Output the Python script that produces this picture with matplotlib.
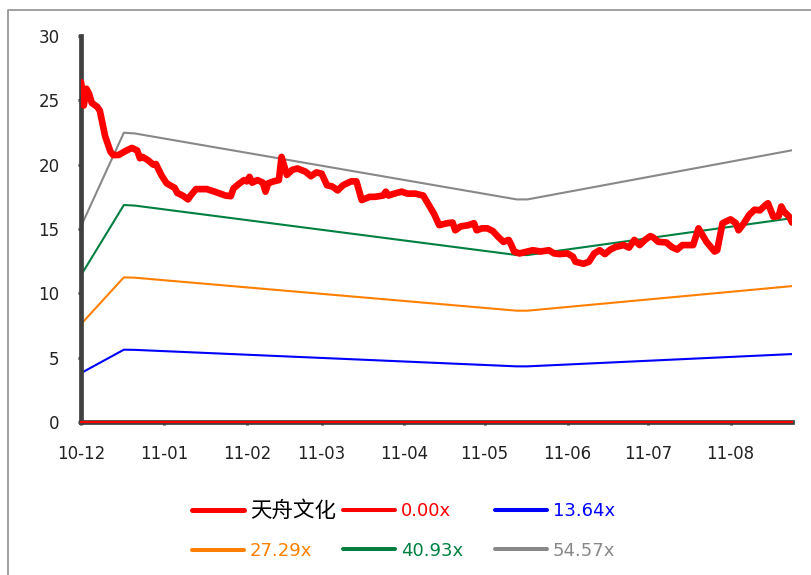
import pandas as pd
import matplotlib
matplotlib.use('Agg')
import matplotlib.pyplot as plt
import matplotlib.dates as mdates
from matplotlib.lines import Line2D

plt.rcParams['font.family'] = ['DejaVu Sans', 'Noto Sans CJK SC']

# 天舟文化 closing price
price_dates = ['2010-12-01', '2010-12-02', '2010-12-03', '2010-12-04', '2010-12-05', '2010-12-07',
               '2010-12-08', '2010-12-10', '2010-12-12', '2010-12-13', '2010-12-15', '2010-12-18',
               '2010-12-20', '2010-12-22', '2010-12-23', '2010-12-24', '2010-12-26', '2010-12-28',
               '2010-12-29', '2010-12-31', '2011-01-02', '2011-01-05', '2011-01-06', '2011-01-08',
               '2011-01-10', '2011-01-11', '2011-01-13', '2011-01-17', '2011-01-20', '2011-01-24',
               '2011-01-26', '2011-01-27', '2011-01-29', '2011-01-31', '2011-02-01', '2011-02-02',
               '2011-02-03', '2011-02-05', '2011-02-07', '2011-02-08', '2011-02-09', '2011-02-11',
               '2011-02-13', '2011-02-14', '2011-02-16', '2011-02-18', '2011-02-20', '2011-02-23',
               '2011-02-25', '2011-02-27', '2011-03-01', '2011-03-03', '2011-03-05', '2011-03-07',
               '2011-03-09', '2011-03-12', '2011-03-14', '2011-03-16', '2011-03-19', '2011-03-21',
               '2011-03-24', '2011-03-25', '2011-03-26', '2011-03-29', '2011-03-31', '2011-04-02',
               '2011-04-05', '2011-04-08', '2011-04-09', '2011-04-12', '2011-04-14', '2011-04-17',
               '2011-04-19', '2011-04-20', '2011-04-22', '2011-04-25', '2011-04-27', '2011-04-28',
               '2011-04-30', '2011-05-02', '2011-05-04', '2011-05-06', '2011-05-08', '2011-05-10',
               '2011-05-11', '2011-05-12', '2011-05-14', '2011-05-17', '2011-05-19', '2011-05-22',
               '2011-05-25', '2011-05-27', '2011-05-29', '2011-06-01', '2011-06-03', '2011-06-04',
               '2011-06-07', '2011-06-09', '2011-06-11', '2011-06-13', '2011-06-15', '2011-06-17',
               '2011-06-19', '2011-06-22', '2011-06-24', '2011-06-26', '2011-06-28', '2011-06-30',
               '2011-07-02', '2011-07-03', '2011-07-05', '2011-07-08', '2011-07-10', '2011-07-12',
               '2011-07-14', '2011-07-18', '2011-07-20', '2011-07-21', '2011-07-23', '2011-07-26',
               '2011-07-27', '2011-07-28', '2011-07-29', '2011-08-01', '2011-08-03', '2011-08-04',
               '2011-08-06', '2011-08-08', '2011-08-10', '2011-08-12', '2011-08-14', '2011-08-15',
               '2011-08-17', '2011-08-19', '2011-08-20', '2011-08-21', '2011-08-23', '2011-08-24']
price = [26.4, 24.6, 25.9, 25.5, 24.8, 24.5,
         24.2, 22.2, 21.0, 20.75, 20.75, 21.1,
         21.3, 21.1, 20.5, 20.6, 20.35, 20.0,
         20.05, 19.2, 18.55, 18.2, 17.8, 17.6,
         17.3, 17.6, 18.1, 18.1, 17.9, 17.6,
         17.55, 18.15, 18.5, 18.8, 18.7, 19.05,
         18.6, 18.8, 18.6, 17.9, 18.55, 18.7,
         18.8, 20.6, 19.2, 19.6, 19.7, 19.45,
         19.1, 19.4, 19.3, 18.4, 18.3, 18.0,
         18.4, 18.7, 18.7, 17.25, 17.5, 17.5,
         17.6, 17.9, 17.6, 17.8, 17.9, 17.75,
         17.75, 17.6, 17.25, 16.2, 15.3, 15.45,
         15.5, 14.9, 15.2, 15.3, 15.45, 14.9,
         15.05, 15.05, 14.85, 14.4, 14.0, 14.15,
         13.75, 13.25, 13.1, 13.25, 13.35, 13.25,
         13.35, 13.1, 13.05, 13.1, 12.85, 12.45,
         12.3, 12.45, 13.1, 13.35, 13.05, 13.4,
         13.6, 13.75, 13.55, 14.15, 13.75, 14.15,
         14.45, 14.35, 14.0, 13.95, 13.6, 13.4,
         13.75, 13.75, 15.05, 14.7, 14.0, 13.25,
         13.35, 14.4, 15.45, 15.75, 15.45, 14.9,
         15.45, 16.1, 16.5, 16.45, 16.85, 17.0,
         15.95, 16.0, 16.75, 16.35, 15.95, 15.5]

# EPS used for the PE bands (changes linearly between these dates)
eps_dates = ['2010-12-01', '2010-12-17', '2010-12-21', '2011-05-13', '2011-05-17', '2011-08-24']
eps = [0.279, 0.412, 0.411, 0.317, 0.317, 0.387]

multiples = [0.0, 13.64, 27.29, 40.93, 54.57]
band_labels = ['0.00x', '13.64x', '27.29x', '40.93x', '54.57x']
band_colors = ['#FF0000', '#0000FF', '#FF8000', '#008040', '#888888']

month_ticks = ['2010-12-01', '2011-01-01', '2011-02-01', '2011-03-01', '2011-04-01',
               '2011-05-01', '2011-06-01', '2011-07-01', '2011-08-01']

px = pd.to_datetime(price_dates)
ex = pd.to_datetime(eps_dates)

fig = plt.figure(figsize=(8.11, 5.75), dpi=100)
ax = fig.add_axes([0.1, 0.2661, 0.9766 - 0.1, 0.9374 - 0.2661])

for m, c in zip(multiples, band_colors):
    vals = [e * m for e in eps]
    if m == 0:
        ax.plot(ex, vals, color=c, lw=1.5, zorder=3, clip_on=False)
    else:
        ax.plot(ex, vals, color=c, lw=1.5, zorder=2)

ax.plot(px, price, color='#FF0000', lw=4.8, solid_capstyle='round', solid_joinstyle='round', zorder=4)

ax.set_xlim(pd.Timestamp(price_dates[0]), pd.Timestamp(price_dates[-1]))
ax.set_ylim(0, 30)
ax.set_yticks(range(0, 31, 5))
ax.set_xticks(pd.to_datetime(month_ticks))
ax.xaxis.set_major_formatter(mdates.DateFormatter('%y-%m'))

for s in ['top', 'right']:
    ax.spines[s].set_visible(False)
for s in ['left', 'bottom']:
    ax.spines[s].set_color('#404040')
    ax.spines[s].set_linewidth(3.4)
ax.tick_params(axis='y', length=2.5, width=2.2, color='#404040', pad=13, labelsize=12, labelcolor='#222222')
ax.tick_params(axis='x', length=2.5, width=2.2, color='#404040', pad=14, labelsize=12, labelcolor='#222222')

# legend, three columns filled row by row
orange, green, gray = band_colors[2], band_colors[3], band_colors[4]
cols = [
    ([Line2D([], [], color='#FF0000', lw=3.6, solid_capstyle='round'),
      Line2D([], [], color=orange, lw=2.9, solid_capstyle='round')],
     ['天舟文化', band_labels[2]], ['black', orange], 192, 500),
    ([Line2D([], [], color=band_colors[0], lw=2.9, solid_capstyle='round'),
      Line2D([], [], color=green, lw=2.9, solid_capstyle='round')],
     [band_labels[0], band_labels[3]], [band_colors[0], green], 343, 502),
    ([Line2D([], [], color=band_colors[1], lw=2.9, solid_capstyle='round'),
      Line2D([], [], color=gray, lw=2.9, solid_capstyle='round')],
     [band_labels[1], band_labels[4]], [band_colors[1], gray], 495, 502),
]
for handles, labels, tcolors, x0, y0 in cols:
    leg = fig.legend(handles, labels, loc='upper left', bbox_to_anchor=(x0 / 811, 1 - y0 / 575),
                     frameon=False, borderpad=0, borderaxespad=0, fontsize=13,
                     handlelength=2.9, handletextpad=0.3, labelspacing=1.2)
    for t, c in zip(leg.get_texts(), tcolors):
        t.set_color(c)
    if labels[0] == '天舟文化':
        leg.get_texts()[0].set_fontsize(15.5)

# outer frame
fig.add_artist(Line2D([8 / 811, 8 / 811, 1.0], [0.0, 1 - 9.5 / 575, 1 - 9.5 / 575],
                      transform=fig.transFigure, color='#999999', lw=1.3))

plt.savefig('out.png', dpi=100)
